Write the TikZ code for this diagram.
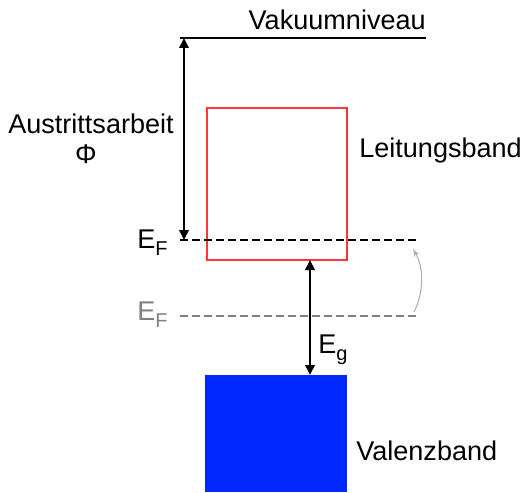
\documentclass[tikz,border=0pt]{standalone}
\usepackage{fontspec}
\setmainfont{Liberation Sans}
\usetikzlibrary{arrows.meta}
\definecolor{bandred}{RGB}{255,55,55}
\definecolor{bandblue}{RGB}{0,40,255}
\definecolor{efgray}{RGB}{128,128,128}
\definecolor{curvegray}{RGB}{175,175,175}
\newcommand{\subF}[1]{{\fontsize{15pt}{15pt}\selectfont\raisebox{-5.5pt}{#1}}}
\begin{document}
\begin{tikzpicture}[x=0.75pt,y=-0.75pt,
  lbl/.style={inner sep=0pt,font=\fontsize{20.3pt}{24pt}\selectfont},
  level/.style={line width=2.1pt},
  dashlevel/.style={line width=2.1pt,dash pattern=on 6pt off 3pt},
  dblarrow/.style={line width=1.9pt,{Triangle[length=7.5pt,width=7pt]}-{Triangle[length=7.5pt,width=7pt]}},
  band/.style={inner sep=0pt,outer sep=0pt}]
\useasboundingbox (0,0) rectangle (520,492);
% vacuum level
\coordinate (vacL) at (180,38);
\coordinate (vacR) at (426,38);
\draw[level] (vacL) -- (vacR);
\node[lbl,anchor=base east] (vak) at (426,30) {Vakuumniveau};
% conduction band
\node[band,draw=bandred,line width=1.4pt,minimum width=105pt,minimum height=114pt] (cb) at (277,184) {};
\node[lbl,anchor=base west] (lb) at (359,157) {Leitungsband};
% valence band
\node[band,fill=bandblue,minimum width=106.5pt,minimum height=87.75pt] (vb) at (276,433.5) {};
\node[lbl,anchor=base west] (vbl) at (356,460) {Valenzband};
% Fermi levels
\coordinate (ef1L) at (180,240);
\coordinate (ef1R) at (416,240);
\coordinate (ef2L) at (180,316);
\coordinate (ef2R) at (416,316);
\draw[dashlevel] (ef1L) -- (ef1R);
\draw[dashlevel,efgray] (ef2L) -- (ef2R);
\node[lbl,anchor=base west] (ef1) at (137,248) {E\subF{F}};
\node[lbl,anchor=base west,text=efgray] (ef2) at (137,320) {E\subF{F}};
% work function
\coordinate (phiTop) at (184,38);
\coordinate (phiBot) at (184,240);
\draw[dblarrow] (phiTop) -- (phiBot);
\node[lbl,anchor=base] (aus) at (91,133) {Austrittsarbeit};
\node[lbl,anchor=base] (phi) at (86,163) {Φ};
% band gap
\coordinate (egx) at (310,0);
\draw[dblarrow] (cb.south -| egx) -- (vb.north -| egx);
\node[lbl,anchor=base west] (eg) at (318,353) {E\subF{g}};
% shift arrow
\coordinate (shS) at (414,312);
\coordinate (shE) at (413,249);
\draw[curvegray,line width=0.8pt,-{Stealth[length=6pt,width=4pt]}] (shS) .. controls (424,292) and (424,268) .. (shE);
\end{tikzpicture}
\end{document}
